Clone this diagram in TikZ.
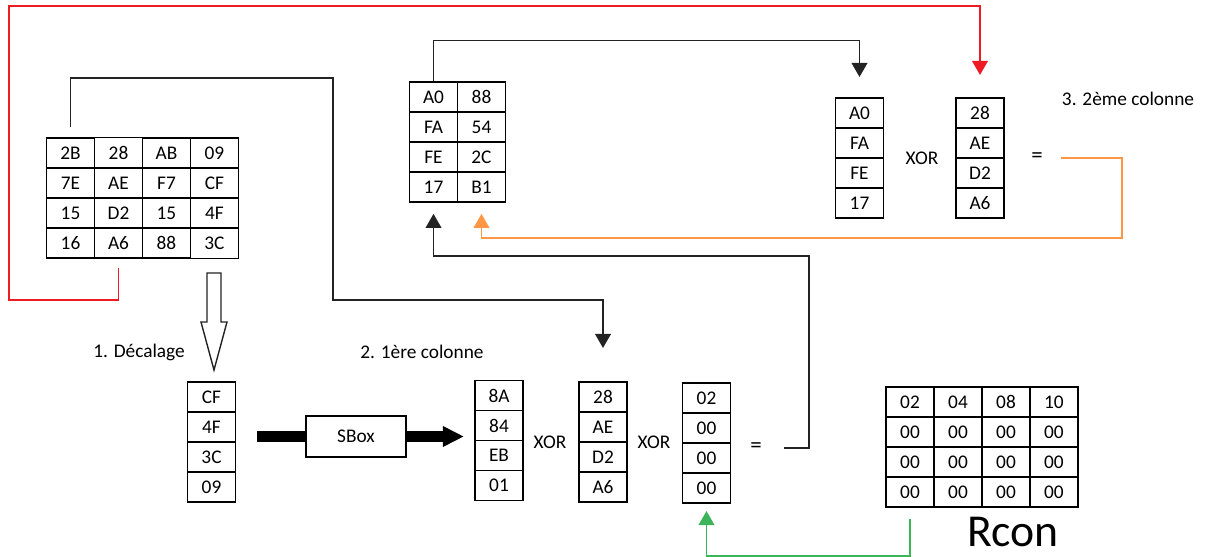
\documentclass[tikz,border=0pt]{standalone}
\usepackage{fontspec}
\setmainfont{Carlito}
\usepackage{xcolor}
\usetikzlibrary{matrix,arrows.meta}
\definecolor{keyred}{RGB}{237,28,36}
\definecolor{keyorange}{RGB}{255,150,70}
\definecolor{keygreen}{RGB}{60,180,90}
\definecolor{keyline}{RGB}{35,35,35}

\begin{document}
\begin{tikzpicture}[
  x = 0.02cm, y = -0.02cm,
  every node/.style = {font = \fontsize{11}{13}\selectfont},
  cell/.style = {draw, line width = 0.8pt, minimum width = 0.96cm, minimum height = 0.6cm, inner sep = 0pt},
  block/.style = {matrix of nodes, nodes = {cell}, column sep = -0.8pt, row sep = -0.8pt, inner sep = 0pt},
  link/.style = {draw = keyline, line width = 0.8pt, -{Triangle[length = 8pt, width = 9pt]}},
  fat/.style = {line width = 6pt}
  ]
  \useasboundingbox (0,0) rectangle (1214,557);

  \matrix (st) [block] at (142.5,198) {
    2B & 28 & AB & 09 \\
    7E & AE & F7 & CF \\
    15 & D2 & 15 & 4F \\
    16 & A6 & 88 & 3C \\
  };
  \matrix (nw) [block] at (457.5,142) {
    A0 & 88 \\
    FA & 54 \\
    FE & 2C \\
    17 & B1 \\
  };
  \matrix (rcon) [block] at (982,447) {
    02 & 04 & 08 & 10 \\
    00 & 00 & 00 & 00 \\
    00 & 00 & 00 & 00 \\
    00 & 00 & 00 & 00 \\
  };
  \matrix (sh) [block] at (211.5,442) {CF \\ 4F \\ 3C \\ 09 \\};
  \matrix (sb) [block] at (499,440.5) {8A \\ 84 \\ EB \\ 01 \\};
  \matrix (w1) [block] at (603,442) {28 \\ AE \\ D2 \\ A6 \\};
  \matrix (rc) [block] at (706.5,443) {02 \\ 00 \\ 00 \\ 00 \\};
  \matrix (a0) [block] at (859.5,158) {A0 \\ FA \\ FE \\ 17 \\};
  \matrix (w2) [block] at (980,158) {28 \\ AE \\ D2 \\ A6 \\};

  \node[draw, line width = 0.8pt, minimum width = 2cm, minimum height = 0.82cm] (sbox) at (356,436.5) {SBox};

  \node[anchor = east] (dec) at (191,352) {1. Décalage};
  \node (col1) at (422,352) {2. 1ère colonne};
  \node (col2) at (1128,99) {3. 2ème colonne};
  \node (x1) at (550,442) {XOR};
  \node (x2) at (654,442) {XOR};
  \node (x3) at (922,158) {XOR};
  \node[font = \fontsize{13}{15}\selectfont] (eq1) at (756,448) {=};
  \node[font = \fontsize{13}{15}\selectfont] (eq2) at (1037,158) {=};
  \node[font = \fontsize{26}{30}\selectfont, anchor = base, inner sep = 0pt] (rconlbl) at (1013,546) {Rcon};

  \coordinate (d) at (214,273);
  \draw[draw = keyline, line width = 0.8pt] (d) ++(-7,0) -- ++(0,49) -- ++(-6,0)
    -- (214,370) -- ++(13,-48) -- ++(-6,0) -- ++(0,-49) -- cycle;

  \draw[fat, shorten <= 0.4cm] (sbox.west -| sh.east) -- (sbox.west);
  \draw[fat, shorten >= 0.2cm, -{Triangle[length = 12pt, width = 11pt]}] (sbox.east) -- (sbox.east -| sb.west);

  \draw[link, shorten <= 0.2cm, shorten >= 0.66cm] (st-1-1.north) |- (333,78) -- (333,300) -| (w1.north);
  \draw[link, draw = keyred, color = keyred, shorten <= 0.18cm, shorten >= 0.44cm] (st-4-2.south) |- (9,300) -- (9,6) -| (w2.north);
  \draw[link, shorten >= 0.4cm] (nw-1-1.north) -- ++(0,-41) -| (a0.north);
  \draw[link, draw = keyorange, color = keyorange, shorten <= 0.24cm, shorten >= 0.22cm] (eq2.east) -| (1122,238) -| (nw-4-2.south);
  \draw[link, shorten <= 0.32cm, shorten >= 0.22cm] (eq1.east) -| (809,256) -| (nw-4-1.south);
  \draw[link, draw = keygreen, color = keygreen, shorten <= 0.22cm, shorten >= 0.14cm] (rcon-4-1.south) -- ++(0,48) -| (rc.south);
\end{tikzpicture}
\end{document}
